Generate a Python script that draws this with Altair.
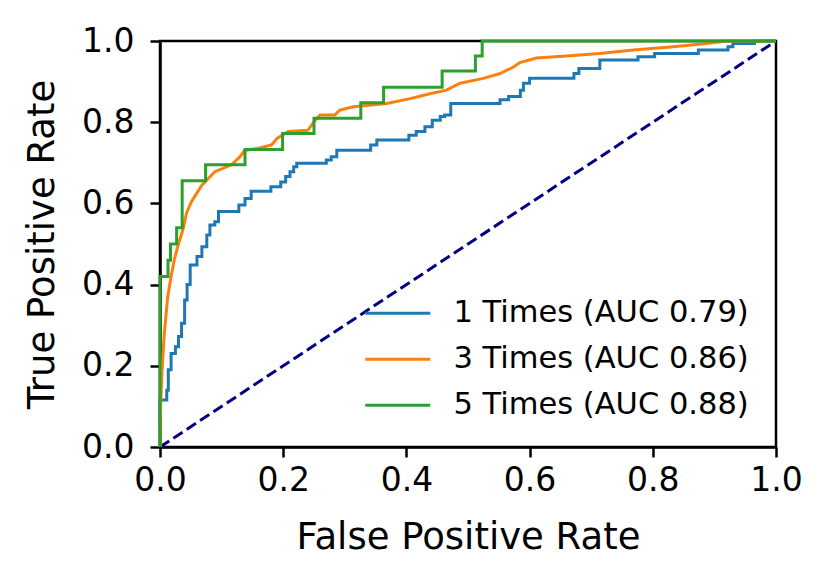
import altair as alt
import pandas as pd

labels = ["1 Times (AUC 0.79)", "3 Times (AUC 0.86)", "5 Times (AUC 0.88)"]
colors = ["#1f77b4", "#ff7f0e", "#2ca02c"]

# 1 Times (step-after corner points)
fpr1 = [0.0, 0.0, 0.007, 0.011, 0.0135, 0.018, 0.025, 0.03, 0.035, 0.04, 0.044, 0.049, 0.06, 0.068,
        0.076, 0.081, 0.089, 0.095, 0.128, 0.138, 0.148, 0.18, 0.196, 0.204, 0.211, 0.217, 0.222,
        0.27, 0.278, 0.287, 0.342, 0.352, 0.404, 0.416, 0.43, 0.442, 0.455, 0.462, 0.472, 0.552,
        0.566, 0.585, 0.59, 0.6, 0.672, 0.68, 0.714, 0.776, 0.803, 0.874, 0.922, 0.93, 0.965, 1.0]
tpr1 = [0.0, 0.116, 0.116, 0.14, 0.19, 0.23, 0.247, 0.272, 0.305, 0.362, 0.40, 0.448, 0.469, 0.493,
        0.522, 0.547, 0.555, 0.58, 0.596, 0.612, 0.63, 0.641, 0.653, 0.666, 0.678, 0.69, 0.699,
        0.707, 0.715, 0.731, 0.744, 0.756, 0.768, 0.777, 0.789, 0.805, 0.814, 0.818, 0.846, 0.855,
        0.863, 0.879, 0.896, 0.908, 0.92, 0.932, 0.953, 0.961, 0.969, 0.978, 0.986, 0.994, 1.0, 1.0]

# 3 Times (linear)
fpr3 = [0.0, 0.001, 0.003, 0.007, 0.0125, 0.018, 0.023, 0.03, 0.038, 0.043, 0.051, 0.068, 0.089,
        0.116, 0.13, 0.137, 0.16, 0.181, 0.19, 0.208, 0.24, 0.252, 0.26, 0.284, 0.292, 0.314, 0.368,
        0.406, 0.438, 0.465, 0.487, 0.525, 0.552, 0.574, 0.584, 0.611, 0.66, 0.714, 0.768, 0.833,
        0.887, 0.92, 1.0]
tpr3 = [0.0, 0.1, 0.18, 0.28, 0.37, 0.42, 0.46, 0.50, 0.54, 0.576, 0.604, 0.645, 0.678,
        0.695, 0.715, 0.73, 0.736, 0.744, 0.76, 0.777, 0.78, 0.805, 0.818, 0.818, 0.83, 0.838, 0.846,
        0.858, 0.87, 0.879, 0.896, 0.908, 0.92, 0.936, 0.947, 0.958, 0.963, 0.969, 0.978, 0.986,
        0.994, 1.0, 1.0]

# 5 Times (step-after corner points)
fpr5 = [0.0, 0.0, 0.013, 0.017, 0.027, 0.036, 0.074, 0.138, 0.199, 0.25, 0.326, 0.363, 0.458,
        0.512, 0.523, 1.0]
tpr5 = [0.0, 0.42, 0.46, 0.50, 0.54, 0.656, 0.695, 0.733, 0.772, 0.81, 0.848, 0.886, 0.926,
        0.963, 1.0, 1.0]

diag_x = [0.0, 1.0]
diag_y = [0.0, 1.0]


def frame(fpr, tpr, label):
    return pd.DataFrame({"fpr": fpr, "tpr": tpr, "series": label, "i": list(range(len(fpr)))})


d1 = frame(fpr1, tpr1, labels[0])
d3 = frame(fpr3, tpr3, labels[1])
d5 = frame(fpr5, tpr5, labels[2])
dd = pd.DataFrame({"fpr": diag_x, "tpr": diag_y})

xs = alt.Scale(domain=[0, 1], nice=False, zero=False)
ys = alt.Scale(domain=[0, 1], nice=False, zero=False)
cs = alt.Scale(domain=labels, range=colors)

X = alt.X("fpr:Q", scale=xs, title="False Positive Rate",
          axis=alt.Axis(values=[0, 0.2, 0.4, 0.6, 0.8, 1.0], format=".1f", labelPadding=7,
                        labelFlush=False, titlePadding=22))
Y = alt.Y("tpr:Q", scale=ys, title="True Positive Rate",
          axis=alt.Axis(values=[0, 0.2, 0.4, 0.6, 0.8, 1.0], format=".1f", labelPadding=16,
                        labelFlush=False, titlePadding=20))

legend = alt.Legend(title=None, orient="none", legendX=200, legendY=257,
                    symbolType="M-1,0H5.5", symbolSize=400, symbolStrokeWidth=3,
                    labelFontSize=30.5, labelOffset=63, labelLimit=0, rowPadding=15, padding=0,
                    labelColor="black", labelFont="DejaVu Sans")

diag = alt.Chart(dd).mark_line(color="navy", strokeWidth=3, strokeDash=[11, 5]).encode(
    x=X, y=Y)


def curve(df, interp):
    return alt.Chart(df).mark_line(strokeWidth=3, interpolate=interp).encode(
        x=X, y=Y, order="i:Q",
        color=alt.Color("series:N", scale=cs, legend=legend))


chart = alt.layer(
    diag,
    curve(d1, "step-after"),
    curve(d3, "linear"),
    curve(d5, "step-after"),
).properties(
    width=616, height=406,
    autosize=alt.AutoSizeParams(type="none"),
    padding={"left": 152, "top": 33, "right": 40, "bottom": 110},
).configure_view(
    stroke="black", strokeWidth=2.5
).configure_axis(
    grid=False, labelFont="DejaVu Sans", titleFont="DejaVu Sans",
    labelFontSize=33, titleFontSize=37, titleFontWeight="normal",
    labelColor="black", titleColor="black",
    tickColor="black", tickSize=10, tickWidth=2.5,
    domainColor="black", domainWidth=2.5,
)

chart.save("out.html", embed_options={"renderer": "svg", "actions": False})
